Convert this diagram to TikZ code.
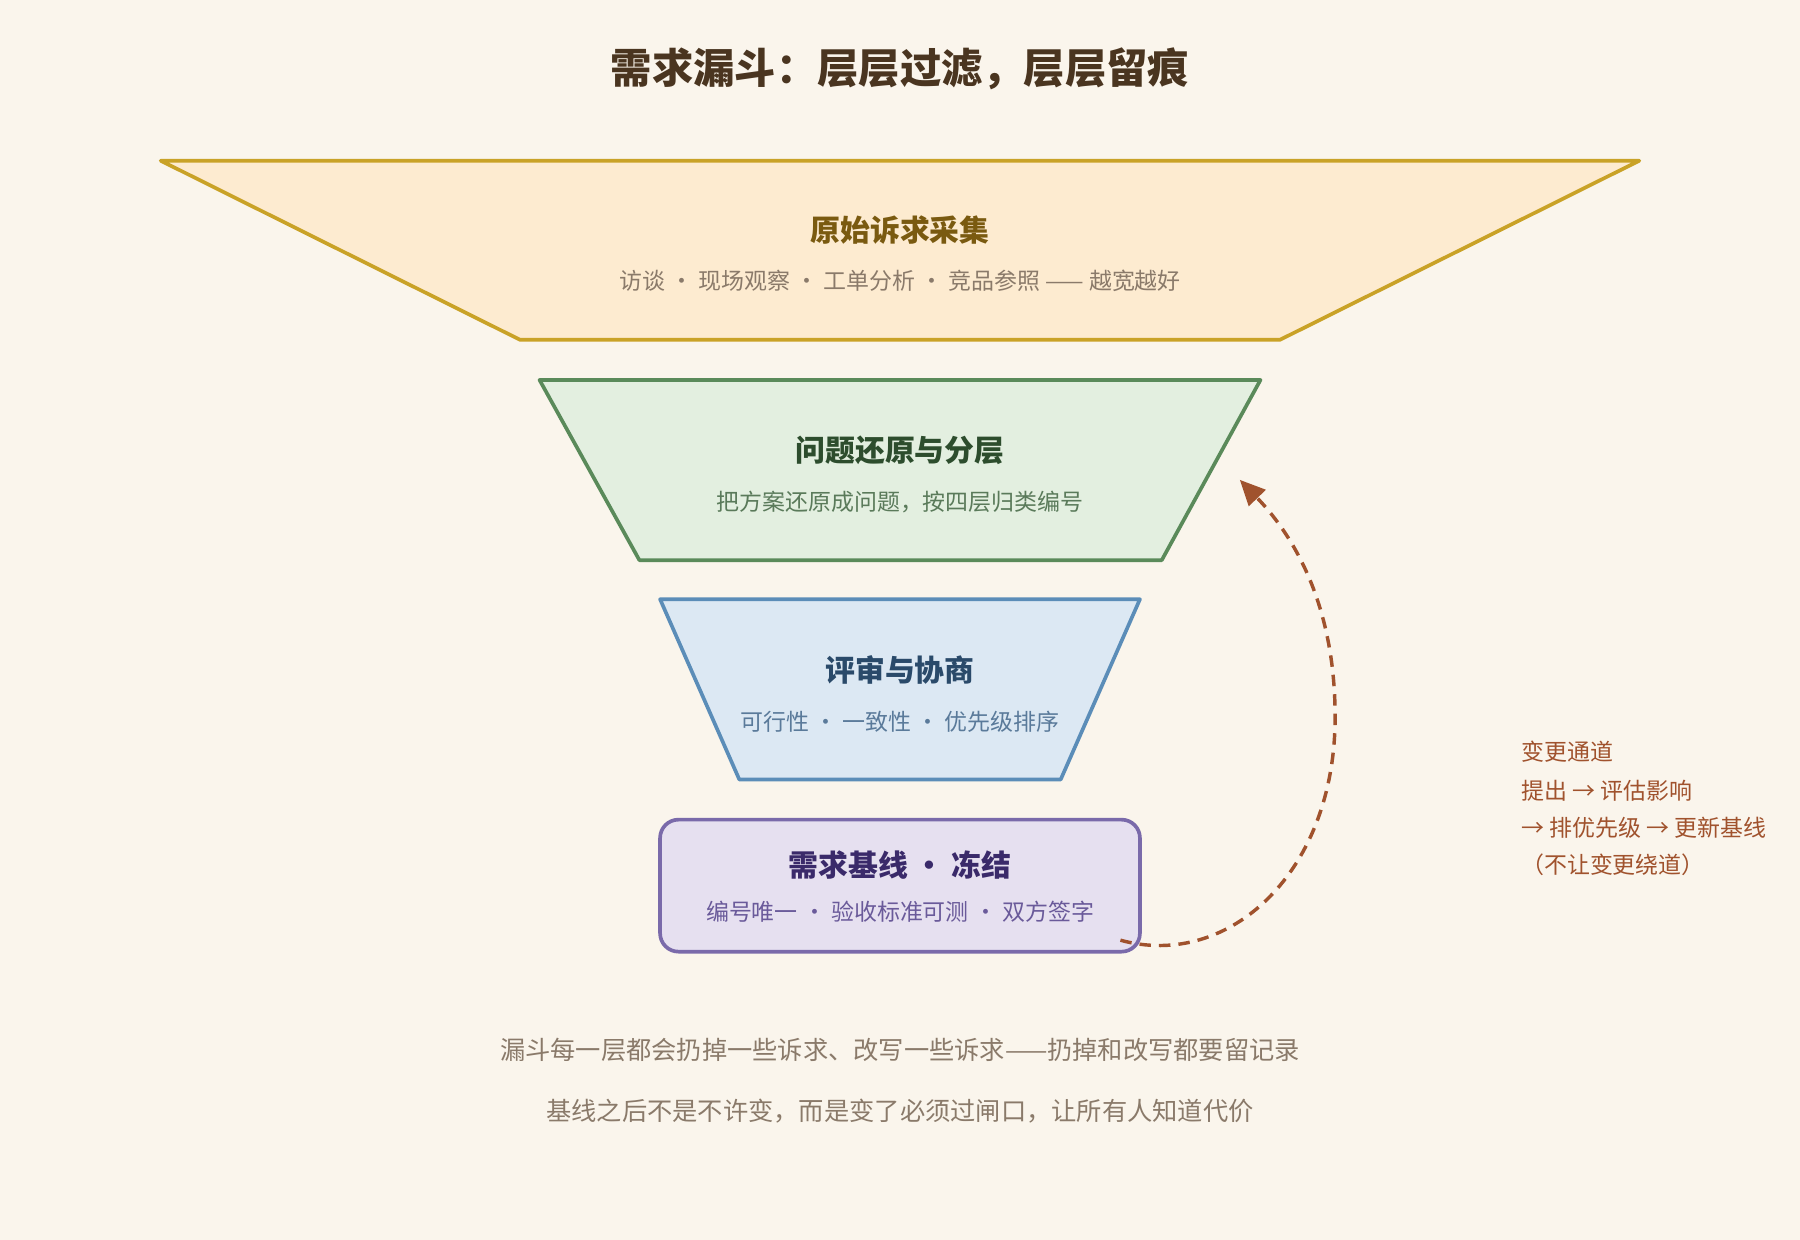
\documentclass[tikz,border=0pt]{standalone}
\usepackage{fontspec}
\setmainfont{Noto Sans CJK SC}
\usetikzlibrary{arrows.meta}
\definecolor{bg}{HTML}{FAF5EC}
\definecolor{ttl}{HTML}{4A3520}
\definecolor{gry}{HTML}{8A7A6A}
\definecolor{chg}{HTML}{A0522D}
\definecolor{f1}{HTML}{FDEBD0}\definecolor{s1}{HTML}{C9A227}\definecolor{t1}{HTML}{7A5A10}
\definecolor{f2}{HTML}{E3EFE0}\definecolor{s2}{HTML}{5A8A5A}\definecolor{t2}{HTML}{2D4D2D}\definecolor{u2}{HTML}{5A7A5A}
\definecolor{f3}{HTML}{DCE8F3}\definecolor{s3}{HTML}{5B8DB8}\definecolor{t3}{HTML}{2A4A6A}\definecolor{u3}{HTML}{5A7A9A}
\definecolor{f4}{HTML}{E6E0F0}\definecolor{s4}{HTML}{7A6AAA}\definecolor{t4}{HTML}{3A2A6A}\definecolor{u4}{HTML}{6A5A9A}
\begin{document}
\begin{tikzpicture}[x=0.5pt,y=-0.5pt,
  lay/.style={line width=1.6pt,line join=round},
  tt/.style={font=\fontsize{13}{15}\selectfont\bfseries},
  st/.style={font=\fontsize{10}{12}\selectfont},
  note/.style={font=\fontsize{11}{13}\selectfont,text=gry},
  side/.style={font=\fontsize{10}{12}\selectfont,text=chg,anchor=west}]
\fill[bg] (0,0) rectangle (1568,1080);
\useasboundingbox (0,0) rectangle (1568,1080);
\node[font=\fontsize{18}{22}\selectfont\bfseries,text=ttl] (title) at (784,60) {需求漏斗：层层过滤，层层留痕};
\draw[lay,draw=s1,fill=f1] (140,140) -- (1428,140) -- (1115,296) -- (453,296) -- cycle;
\node[tt,text=t1] (a) at (784,200) {原始诉求采集};
\node[st,text=gry] (as) at (784,245) {访谈 · 现场观察 · 工单分析 · 竞品参照 —— 越宽越好};
\draw[lay,draw=s2,fill=f2] (470,331) -- (1098,331) -- (1012,488) -- (557,488) -- cycle;
\node[tt,text=t2] (b) at (784,392) {问题还原与分层};
\node[st,text=u2] (bs) at (784,437) {把方案还原成问题，按四层归类编号};
\draw[lay,draw=s3,fill=f3] (575,522) -- (993,522) -- (924,679) -- (644,679) -- cycle;
\node[tt,text=t3] (c) at (784,584) {评审与协商};
\node[st,text=u3] (cs) at (784,629) {可行性 · 一致性 · 优先级排序};
\draw[lay,draw=s4,fill=f4,rounded corners=8pt] (575,714) rectangle (993,829);
\node[tt,text=t4] (d) at (784,754) {需求基线 · 冻结};
\node[st,text=u4] (ds) at (784,794) {编号唯一 · 验收标准可测 · 双方签字};
\coordinate (p0) at (976,819);
\coordinate (p1) at (1163,620);
\coordinate (p2) at (1080,418);
\draw[chg,line width=1.5pt,dash pattern=on 5pt off 3.5pt,-{Triangle[length=11pt,width=10pt]}]
  (p0) .. controls (1070,845) and (1165,760) .. (p1) .. controls (1162,530) and (1130,470) .. (p2);
\node[side] (n1) at (1318,655) {变更通道};
\node[side] (n2) at (1318,689) {提出 → 评估影响};
\node[side] (n3) at (1318,721) {→ 排优先级 → 更新基线};
\node[side] (n4) at (1318,753) {（不让变更绕道）};
\node[note] (m1) at (784,915) {漏斗每一层都会扔掉一些诉求、改写一些诉求——扔掉和改写都要留记录};
\node[note] (m2) at (784,968) {基线之后不是不许变，而是变了必须过闸口，让所有人知道代价};
\end{tikzpicture}
\end{document}
